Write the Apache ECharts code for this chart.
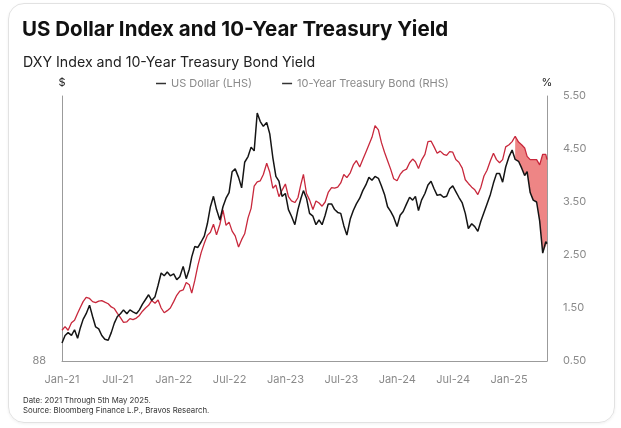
<!DOCTYPE html>
<html><head><meta charset="utf-8">
<script src="https://cdn.jsdelivr.net/npm/echarts/dist/echarts.min.js"></script>
<style>
html,body{margin:0;padding:0;background:#fff;}
#card{position:absolute;left:8px;top:3px;width:605px;height:418px;border:1px solid #e2e2e2;border-radius:16px;box-shadow:0 1px 3px rgba(0,0,0,0.06);}
#chart{position:absolute;left:0;top:0;width:621px;height:428px;}
</style></head><body><div id="card"></div><div id="chart"></div>
<script>
// Sample dates: 1st, 11th, 21st of each month, Jan 2021 - May 2025
const sampleDays = [1, 11, 21];
const dates = [];
for (let y = 2021; y <= 2025; y++) {
  for (let m = 1; m <= 12; m++) {
    for (const d of sampleDays) {
      if (y === 2025 && (m > 5 || (m === 5 && d > 1))) continue;
      dates.push(y + '-' + String(m).padStart(2, '0') + '-' + String(d).padStart(2, '0'));
    }
  }
}
dates.push('2025-05-05');

const dxyValues = [
  89.9, 90.7, 91.0, 90.7, 91.3, 90.4, 91.4, 92.4, 93.0, 93.9,
  92.7, 91.6, 91.4, 90.7, 90.3, 90.2, 91.0, 92.0, 92.7, 93.0,
  93.4, 93.0, 93.4, 93.2, 93.0, 93.4, 94.0, 94.5, 95.0, 94.4,
  94.8, 96.0, 97.3, 97.0, 97.4, 97.0, 97.2, 96.6, 96.9, 98.0,
  96.7, 97.7, 99.0, 100.1, 100.0, 100.6, 101.2, 102.5, 104.3, 105.4,
  104.0, 102.9, 104.3, 105.2, 105.8, 108.0, 108.3, 107.4, 106.3, 109.0,
  109.6, 110.6, 110.2, 114.2, 113.3, 112.8, 113.2, 112.0, 109.5, 107.5,
  107.0, 105.4, 105.7, 104.0, 103.3, 102.4, 104.0, 105.2, 106.0, 105.2,
  103.6, 103.3, 102.4, 102.9, 102.4, 103.4, 104.6, 104.6, 104.0, 103.7,
  103.6, 102.3, 101.3, 103.0, 103.9, 104.6, 105.2, 106.0, 106.6, 107.4,
  107.1, 107.5, 107.3, 106.5, 105.6, 104.3, 103.8, 103.2, 102.2, 103.4,
  103.8, 104.6, 105.3, 105.0, 105.4, 103.9, 105.0, 105.7, 106.6, 107.0,
  106.2, 105.5, 105.6, 105.3, 105.4, 106.2, 106.5, 105.9, 105.3, 104.7,
  103.6, 102.0, 102.5, 102.2, 101.7, 102.8, 103.7, 104.6, 105.6, 106.8,
  107.8, 107.8, 106.9, 108.5, 109.6, 110.3, 109.3, 109.1, 108.4, 107.6,
  108.0, 105.8, 105.0, 104.8, 102.8, 99.4, 100.6, 100.4
];

const ust10Values = [
  1.08, 1.15, 1.08, 1.22, 1.27, 1.40, 1.50, 1.62, 1.70, 1.68,
  1.62, 1.60, 1.63, 1.64, 1.61, 1.58, 1.52, 1.49, 1.40, 1.32,
  1.23, 1.24, 1.30, 1.28, 1.31, 1.36, 1.44, 1.50, 1.55, 1.64,
  1.59, 1.65, 1.50, 1.41, 1.45, 1.50, 1.62, 1.74, 1.82, 1.84,
  1.98, 1.94, 1.78, 2.02, 2.30, 2.55, 2.72, 2.87, 2.93, 3.08,
  2.88, 3.08, 3.35, 3.06, 3.12, 2.95, 2.86, 2.65, 2.79, 2.90,
  3.20, 3.38, 3.80, 3.88, 3.90, 4.02, 4.23, 4.06, 3.76, 3.82,
  3.60, 3.72, 3.84, 3.60, 3.52, 3.49, 3.58, 3.84, 4.02, 3.66,
  3.54, 3.36, 3.52, 3.48, 3.42, 3.50, 3.68, 3.77, 3.76, 3.78,
  3.86, 4.02, 3.96, 4.05, 4.20, 4.28, 4.16, 4.30, 4.44, 4.58,
  4.72, 4.94, 4.86, 4.62, 4.44, 4.28, 4.12, 3.94, 3.90, 4.02,
  4.09, 4.12, 4.24, 4.31, 4.26, 4.13, 4.29, 4.40, 4.64, 4.65,
  4.54, 4.42, 4.46, 4.40, 4.38, 4.45, 4.44, 4.30, 4.25, 4.14,
  3.92, 3.85, 3.78, 3.73, 3.64, 3.78, 3.99, 4.10, 4.28, 4.42,
  4.30, 4.24, 4.30, 4.54, 4.58, 4.64, 4.74, 4.63, 4.58, 4.52,
  4.36, 4.30, 4.30, 4.30, 4.20, 4.40, 4.40, 4.30
];

const tickLabels = ['Jan-21','Jul-21','Jan-22','Jul-22','Jan-23','Jul-23','Jan-24','Jul-24','Jan-25'];

const fillStartDate = '2025-01-21';

// axis ranges
const DXY_MIN = 88, DXY_MAX = 116;
const UST_MIN = 0.5, UST_MAX = 5.5;
const X_MIN = '2021-01-01', X_MAX = '2025-05-05';

const dxyData = dates.map((d, i) => [d, dxyValues[i]]);
const ustData = dates.map((d, i) => [d, ust10Values[i]]);
// fill between the two lines (dollar expressed on the right-hand scale)
const toRight = v => UST_MIN + (v - DXY_MIN) / (DXY_MAX - DXY_MIN) * (UST_MAX - UST_MIN);
const fillBase = dates.map((d, i) => [d, d >= fillStartDate ? toRight(dxyValues[i]) : null]);
const fillBand = dates.map((d, i) => [d, d >= fillStartDate ? ust10Values[i] - toRight(dxyValues[i]) : null]);

// tick-label strip: Jan-21 .. Jan-25 at their true time positions
const plotLeft = 62, plotWidth = 485;
const span = Date.parse(X_MAX) - Date.parse(X_MIN);
const labelWidth = plotWidth * (Date.parse('2025-01-01') - Date.parse(X_MIN)) / span;

const chart = echarts.init(document.getElementById('chart'));
const axisGrey = '#9b9b9b';
chart.setOption({
  animation: false,
  textStyle: { fontFamily: 'Inter, Roboto, sans-serif' },
  title: [
    { text: 'US Dollar Index and 10-Year Treasury Yield', left: 17, top: 14,
      textStyle: { fontSize: 20.5, fontWeight: 'bold', color: '#111', fontFamily: 'Inter' } },
    { text: 'DXY Index and 10-Year Treasury Bond Yield', left: 18, top: 51,
      textStyle: { fontSize: 14.2, fontWeight: 'normal', color: '#222', fontFamily: 'Inter' } },
    { text: 'Date: 2021 Through 5th May 2025.\nSource: Bloomberg Finance L.P., Bravos Research.', left: 18, top: 391,
      textStyle: { fontSize: 7.8, lineHeight: 9.5, fontWeight: 'normal', color: '#333' } }
  ],
  legend: {
    left: 151, top: 73, itemWidth: 10, itemHeight: 1.5, itemGap: 30, icon: 'rect',
    textStyle: { fontSize: 11, color: '#8a8a8a' },
    data: [
      { name: 'US Dollar (LHS)', itemStyle: { color: '#333' } },
      { name: '10-Year Treasury Bond (RHS)', itemStyle: { color: '#333' } }
    ]
  },
  grid: [
    { left: plotLeft, width: plotWidth, top: 96, bottom: 67 },
    { left: plotLeft, width: labelWidth, top: 96, bottom: 67 }
  ],
  xAxis: [
    { type: 'time', gridIndex: 0, min: X_MIN, max: X_MAX,
      axisLine: { show: true, lineStyle: { color: axisGrey } }, axisTick: { show: false },
      axisLabel: { show: false }, splitLine: { show: false } },
    { type: 'category', gridIndex: 1, data: tickLabels, boundaryGap: false,
      axisLine: { show: false }, axisTick: { show: false }, splitLine: { show: false },
      axisLabel: { color: '#8a8a8a', fontSize: 11, margin: 13, interval: 0 } }
  ],
  yAxis: [
    { type: 'value', gridIndex: 0, position: 'left', min: DXY_MIN, max: DXY_MAX, interval: DXY_MAX - DXY_MIN,
      name: '$', nameLocation: 'end', nameGap: 8, nameTextStyle: { color: '#222', fontSize: 11 },
      axisLine: { show: true, lineStyle: { color: axisGrey } }, axisTick: { show: false }, splitLine: { show: false },
      axisLabel: { color: '#8a8a8a', fontSize: 11, margin: 16, formatter: v => (v === DXY_MIN ? String(v) : '') } },
    { type: 'value', gridIndex: 0, position: 'right', min: UST_MIN, max: UST_MAX, interval: 1,
      name: '%', nameLocation: 'end', nameGap: 8, nameTextStyle: { color: '#222', fontSize: 11 },
      axisLine: { show: true, lineStyle: { color: axisGrey } }, axisTick: { show: false }, splitLine: { show: false },
      axisLabel: { color: '#8a8a8a', fontSize: 11, margin: 16, formatter: v => v.toFixed(2) } },
    { type: 'value', gridIndex: 1, show: false }
  ],
  series: [
    { name: 'fillBase', type: 'line', xAxisIndex: 0, yAxisIndex: 1, stack: 'gap', data: fillBase,
      symbol: 'none', lineStyle: { opacity: 0 }, silent: true, z: 1 },
    { name: 'fillBand', type: 'line', xAxisIndex: 0, yAxisIndex: 1, stack: 'gap', data: fillBand,
      symbol: 'none', lineStyle: { opacity: 0 }, areaStyle: { color: 'rgba(226,52,52,0.86)' }, silent: true, z: 1 },
    { name: '10-Year Treasury Bond (RHS)', type: 'line', xAxisIndex: 0, yAxisIndex: 1, data: ustData,
      symbol: 'none', color: '#c8283c', lineStyle: { width: 1.3, color: '#c8283c' }, z: 3 },
    { name: 'US Dollar (LHS)', type: 'line', xAxisIndex: 0, yAxisIndex: 0, data: dxyData,
      symbol: 'none', color: '#151515', lineStyle: { width: 1.5, color: '#151515' }, z: 4 }
  ]
});
</script></body></html>
